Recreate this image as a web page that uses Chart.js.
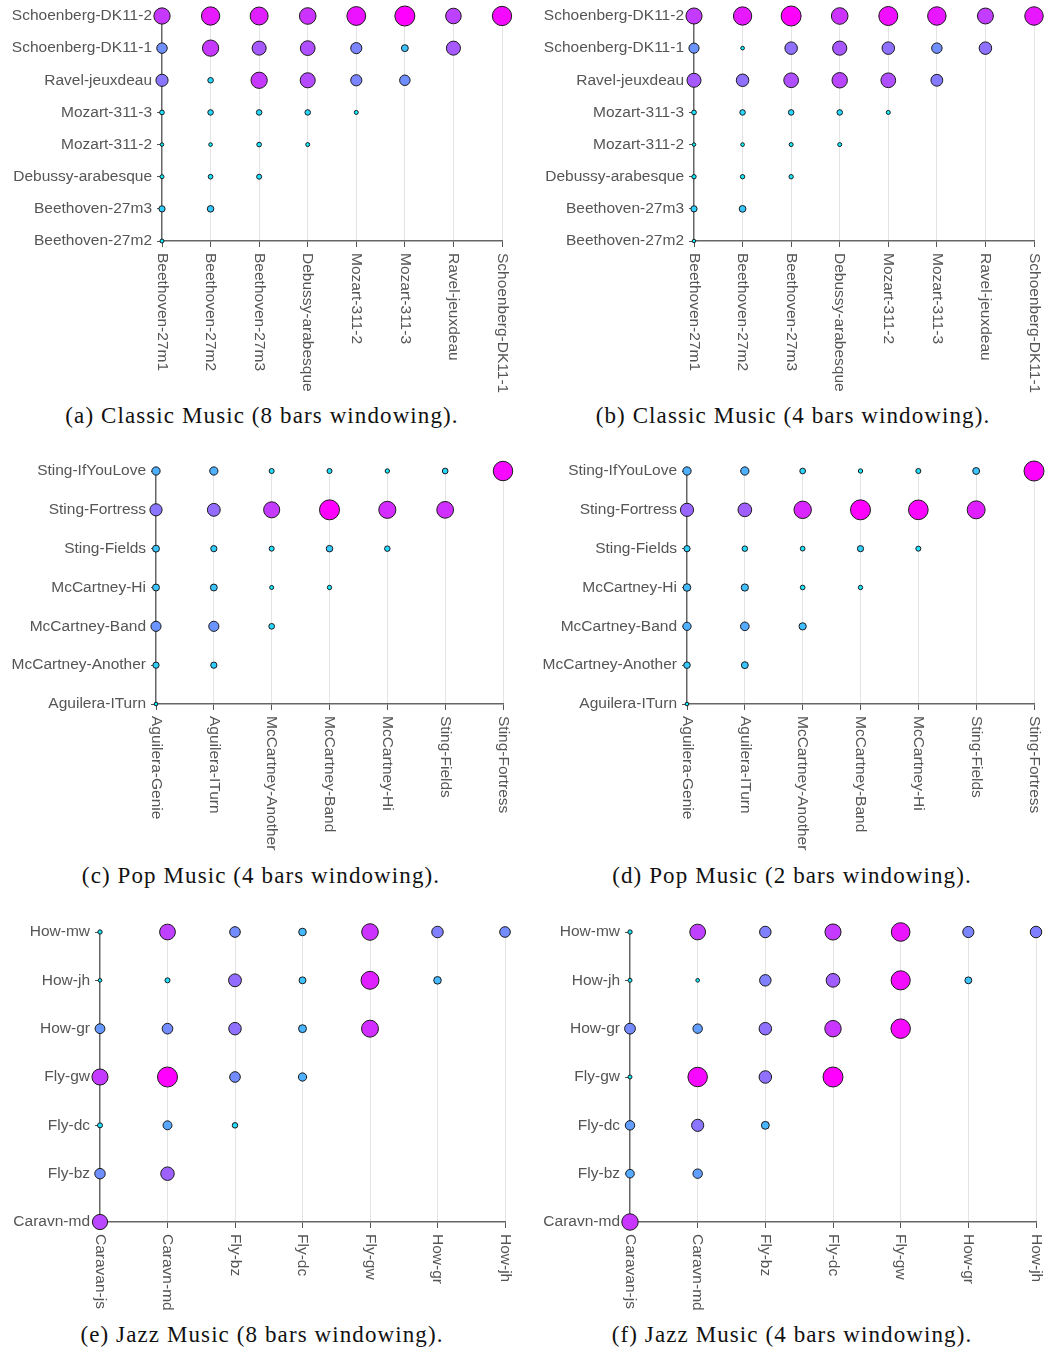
<!DOCTYPE html>
<html>
<head>
<meta charset="utf-8">
<script src="https://cdn.jsdelivr.net/npm/chart.js@4/dist/chart.umd.min.js"></script>
<style>
  html, body { margin: 0; padding: 0; background: #fff; }
  body { width: 1051px; height: 1352px; position: relative; overflow: hidden; }
  canvas.panel { position: absolute; }
  .caption {
    position: absolute;
    font-family: "Liberation Serif", "Times New Roman", serif;
    font-size: 23px;
    letter-spacing: 1.1px;
    line-height: 28px;
    color: #111;
    white-space: nowrap;
    transform: translateX(-50%);
  }
</style>
</head>
<body>
<script>
// ---- Pieces compared in each genre ----
const classicCols = ['Beethoven-27m1', 'Beethoven-27m2', 'Beethoven-27m3', 'Debussy-arabesque',
                     'Mozart-311-2', 'Mozart-311-3', 'Ravel-jeuxdeau', 'Schoenberg-DK11-1'];
const classicRows = ['Schoenberg-DK11-2', 'Schoenberg-DK11-1', 'Ravel-jeuxdeau', 'Mozart-311-3',
                     'Mozart-311-2', 'Debussy-arabesque', 'Beethoven-27m3', 'Beethoven-27m2'];

const popCols = ['Aguilera-Genie', 'Aguilera-ITurn', 'McCartney-Another', 'McCartney-Band',
                 'McCartney-Hi', 'Sting-Fields', 'Sting-Fortress'];
const popRows = ['Sting-IfYouLove', 'Sting-Fortress', 'Sting-Fields', 'McCartney-Hi',
                 'McCartney-Band', 'McCartney-Another', 'Aguilera-ITurn'];

const jazzCols = ['Caravan-js', 'Caravn-md', 'Fly-bz', 'Fly-dc', 'Fly-gw', 'How-gr', 'How-jh'];
const jazzRows = ['How-mw', 'How-jh', 'How-gr', 'Fly-gw', 'Fly-dc', 'Fly-bz', 'Caravn-md'];

// ---- Pairwise scores (0..1), one row per row label, top to bottom ----
const classic8 = [
  [0.78, 0.90, 0.88, 0.80, 0.93, 1.00, 0.74, 0.96],
  [0.44, 0.78, 0.65, 0.69, 0.48, 0.23, 0.65],
  [0.54, 0.15, 0.78, 0.71, 0.48, 0.44],
  [0.10, 0.15, 0.15, 0.15, 0.06],
  [0.03, 0.04, 0.10, 0.06],
  [0.06, 0.10, 0.12],
  [0.19, 0.21],
  [0.06]
];
const classic4 = [
  [0.77, 0.90, 1.00, 0.80, 0.94, 0.91, 0.76, 0.91],
  [0.42, 0.04, 0.56, 0.66, 0.56, 0.44, 0.56],
  [0.65, 0.56, 0.69, 0.73, 0.69, 0.52],
  [0.10, 0.15, 0.15, 0.15, 0.06],
  [0.03, 0.04, 0.06, 0.06],
  [0.08, 0.08, 0.08],
  [0.19, 0.22],
  [0.03]
];
const pop4 = [
  [0.31, 0.31, 0.12, 0.12, 0.08, 0.16, 0.97],
  [0.54, 0.58, 0.77, 1.00, 0.83, 0.81],
  [0.23, 0.19, 0.12, 0.21, 0.15],
  [0.23, 0.23, 0.06, 0.08],
  [0.42, 0.42, 0.16],
  [0.19, 0.19],
  [0.04]
];
const pop2 = [
  [0.31, 0.31, 0.16, 0.08, 0.12, 0.23, 1.00],
  [0.60, 0.63, 0.85, 1.00, 0.98, 0.88],
  [0.19, 0.15, 0.10, 0.19, 0.12],
  [0.27, 0.25, 0.10, 0.08],
  [0.31, 0.33, 0.25],
  [0.21, 0.23],
  [0.04]
];
const jazz8 = [
  [0.08, 0.75, 0.45, 0.27, 0.80, 0.50, 0.45],
  [0.04, 0.12, 0.58, 0.23, 0.88, 0.27],
  [0.40, 0.45, 0.56, 0.29, 0.82],
  [0.77, 1.00, 0.45, 0.31],
  [0.12, 0.35, 0.15],
  [0.44, 0.62],
  [0.72]
];
const jazz4 = [
  [0.08, 0.75, 0.50, 0.77, 0.92, 0.48, 0.50],
  [0.06, 0.04, 0.50, 0.63, 0.95, 0.23],
  [0.46, 0.38, 0.56, 0.79, 0.97],
  [0.06, 0.97, 0.56, 1.00],
  [0.38, 0.54, 0.29],
  [0.33, 0.38],
  [0.79]
];

const captions = [
  '(a) Classic Music (8 bars windowing).',
  '(b) Classic Music (4 bars windowing).',
  '(c) Pop Music (4 bars windowing).',
  '(d) Pop Music (2 bars windowing).',
  '(e) Jazz Music (8 bars windowing).',
  '(f) Jazz Music (4 bars windowing).'
];

// ---- Page layout of the six panels (page pixels) ----
const layout = [
  { box: { left: 0,   top: 0,   width: 525, height: 400 }, area: { left: 162, top: 16,  right: 502,  bottom: 241 },  cap: { x: 262, y: 416 } },
  { box: { left: 525, top: 0,   width: 526, height: 400 }, area: { left: 694, top: 16,  right: 1034, bottom: 241 },  cap: { x: 793, y: 416 } },
  { box: { left: 0,   top: 455, width: 525, height: 405 }, area: { left: 156, top: 471, right: 503,  bottom: 704 },  cap: { x: 261, y: 876 } },
  { box: { left: 525, top: 455, width: 526, height: 405 }, area: { left: 687, top: 471, right: 1034, bottom: 704 },  cap: { x: 792, y: 876 } },
  { box: { left: 0,   top: 915, width: 525, height: 400 }, area: { left: 100, top: 932, right: 505,  bottom: 1222 }, cap: { x: 262, y: 1335 } },
  { box: { left: 525, top: 915, width: 526, height: 400 }, area: { left: 630, top: 932, right: 1036, bottom: 1222 }, cap: { x: 792, y: 1335 } }
];

const panelData = [
  { cols: classicCols, rows: classicRows, values: classic8 },
  { cols: classicCols, rows: classicRows, values: classic4 },
  { cols: popCols,     rows: popRows,     values: pop4 },
  { cols: popCols,     rows: popRows,     values: pop2 },
  { cols: jazzCols,    rows: jazzRows,    values: jazz8 },
  { cols: jazzCols,    rows: jazzRows,    values: jazz4 }
];

const LABEL_FONT = { family: '"Liberation Sans", Arial, sans-serif', size: 15.5 };
const LABEL_COLOR = '#555';

// "cool" colour ramp: cyan -> magenta
function cool(v) {
  const t = Math.max(0, Math.min(1, v));
  return `rgb(${Math.round(255 * t)}, ${Math.round(255 * (1 - t))}, 255)`;
}
function radiusFor(v) { return 1.5 + 8.5 * v; }

// x tick labels are written top-to-bottom, hanging below each tick
const hangingXLabels = {
  id: 'hangingXLabels',
  afterDraw(chart) {
    const sx = chart.scales.x;
    const ctx = chart.ctx;
    ctx.save();
    ctx.font = `${LABEL_FONT.size}px ${LABEL_FONT.family}`;
    ctx.fillStyle = LABEL_COLOR;
    ctx.textAlign = 'left';
    ctx.textBaseline = 'middle';
    sx.ticks.forEach((t, i) => {
      ctx.save();
      ctx.translate(sx.getPixelForTick(i), sx.top + 12);
      ctx.rotate(Math.PI / 2);
      ctx.fillText(sx.getLabelForValue(t.value), 0, 0);
      ctx.restore();
    });
    ctx.restore();
  }
};

panelData.forEach((pd, k) => {
  const g = layout[k];
  const canvas = document.createElement('canvas');
  canvas.className = 'panel';
  canvas.width = g.box.width;
  canvas.height = g.box.height;
  canvas.style.left = g.box.left + 'px';
  canvas.style.top = g.box.top + 'px';
  document.body.appendChild(canvas);

  const cap = document.createElement('div');
  cap.className = 'caption';
  cap.textContent = captions[k];
  cap.style.left = g.cap.x + 'px';
  cap.style.top = (g.cap.y - 14) + 'px';
  document.body.appendChild(cap);

  const points = [];
  pd.values.forEach((row, ri) => {
    row.forEach((v, ci) => {
      points.push({ x: pd.cols[ci], y: pd.rows[ri], r: radiusFor(v), v: v });
    });
  });

  const yAxisWidth = g.area.left - g.box.left;
  const xAxisHeight = g.box.top + g.box.height - g.area.bottom;

  new Chart(canvas, {
    type: 'bubble',
    data: {
      datasets: [{
        data: points,
        backgroundColor: (c) => cool(c.raw ? c.raw.v : 0),
        borderColor: '#1a1a1a',
        borderWidth: 1,
        clip: false
      }]
    },
    options: {
      responsive: false,
      animation: false,
      events: [],
      layout: {
        autoPadding: false,
        padding: {
          left: 0,
          top: g.area.top - g.box.top,
          right: g.box.left + g.box.width - g.area.right,
          bottom: 0
        }
      },
      plugins: { legend: { display: false }, tooltip: { enabled: false } },
      scales: {
        x: {
          type: 'category',
          labels: pd.cols,
          offset: false,
          afterFit(scale) { scale.height = xAxisHeight; scale.paddingLeft = 0; scale.paddingRight = 0; },
          grid: { color: '#e4e4e4', lineWidth: 1, drawTicks: true, tickLength: 6, tickColor: '#555' },
          border: { display: true, color: '#666', width: 1.4 },
          ticks: { display: false }
        },
        y: {
          type: 'category',
          labels: pd.rows,
          offset: false,
          afterFit(scale) { scale.width = yAxisWidth; scale.paddingTop = 0; scale.paddingBottom = 0; },
          grid: { drawOnChartArea: false, drawTicks: true, tickLength: 5, tickColor: '#555' },
          border: { display: true, color: '#666', width: 1.4 },
          ticks: { autoSkip: false, padding: 5, color: LABEL_COLOR, font: LABEL_FONT }
        }
      }
    },
    plugins: [hangingXLabels]
  });
});
</script>
</body>
</html>
